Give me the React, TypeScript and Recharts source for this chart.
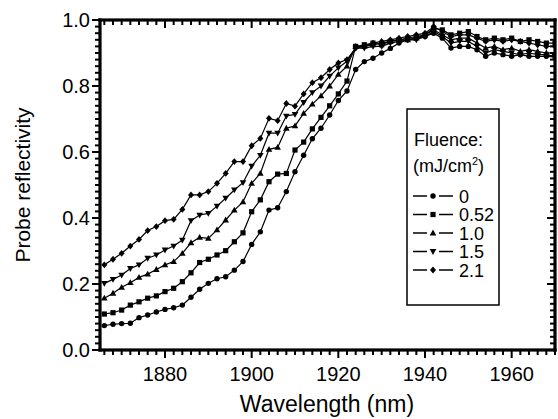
import React from "react";
import { LineChart, Line, XAxis, YAxis } from "recharts";

// wavelength in nm, one point every 2 nm
const wavelength = [
  1866, 1868, 1870, 1872, 1874, 1876, 1878, 1880, 1882, 1884,
  1886, 1888, 1890, 1892, 1894, 1896, 1898, 1900, 1902, 1904,
  1906, 1908, 1910, 1912, 1914, 1916, 1918, 1920, 1922, 1924,
  1926, 1928, 1930, 1932, 1934, 1936, 1938, 1940, 1942, 1944,
  1946, 1948, 1950, 1952, 1954, 1956, 1958, 1960, 1962, 1964,
  1966, 1968, 1970,
];

// probe reflectivity for each fluence (mJ/cm2)
const fluence0 = [
  0.074, 0.078, 0.08, 0.081, 0.098, 0.106, 0.115, 0.123, 0.128, 0.136,
  0.16, 0.184, 0.202, 0.216, 0.222, 0.242, 0.268, 0.32, 0.358, 0.424,
  0.431, 0.48, 0.54, 0.59, 0.64, 0.672, 0.712, 0.756, 0.785, 0.85,
  0.874, 0.884, 0.9, 0.914, 0.93, 0.94, 0.945, 0.95, 0.96, 0.945,
  0.915, 0.92, 0.92, 0.91, 0.89, 0.9, 0.895, 0.89, 0.895, 0.89,
  0.89, 0.89, 0.888,
];
const fluence052 = [
  0.109, 0.113, 0.121, 0.136, 0.146, 0.157, 0.164, 0.177, 0.187, 0.207,
  0.234, 0.265, 0.275, 0.288, 0.301, 0.328, 0.355, 0.419, 0.455, 0.51,
  0.533, 0.535, 0.606, 0.63, 0.67, 0.705, 0.74, 0.776, 0.815, 0.92,
  0.925, 0.93, 0.925, 0.935, 0.94, 0.945, 0.95, 0.955, 0.975, 0.97,
  0.955, 0.96, 0.965, 0.95, 0.94, 0.945, 0.94, 0.945, 0.935, 0.94,
  0.935, 0.93, 0.93,
];
const fluence10 = [
  0.157, 0.172, 0.19, 0.204, 0.22, 0.23, 0.244, 0.258, 0.268, 0.293,
  0.325, 0.341, 0.338, 0.364, 0.394, 0.424, 0.449, 0.505, 0.535, 0.608,
  0.614, 0.672, 0.679, 0.717, 0.745, 0.77, 0.8, 0.835, 0.86, 0.92,
  0.92, 0.925, 0.93, 0.935, 0.94, 0.94, 0.945, 0.955, 0.97, 0.955,
  0.94, 0.945, 0.945, 0.93, 0.915, 0.92, 0.91, 0.915, 0.905, 0.91,
  0.905, 0.9, 0.9,
];
const fluence15 = [
  0.202, 0.214, 0.227, 0.247, 0.258, 0.278, 0.288, 0.303, 0.315, 0.333,
  0.392, 0.409, 0.414, 0.436, 0.46, 0.485, 0.507, 0.557, 0.59, 0.657,
  0.657, 0.709, 0.714, 0.75, 0.78, 0.8, 0.83, 0.855, 0.875, 0.915,
  0.915, 0.92, 0.92, 0.93, 0.935, 0.94, 0.94, 0.95, 0.965, 0.95,
  0.93, 0.935, 0.935, 0.92, 0.9, 0.91, 0.905, 0.9, 0.895, 0.9,
  0.895, 0.895, 0.89,
];
const fluence21 = [
  0.258, 0.275, 0.293, 0.315, 0.335, 0.362, 0.374, 0.392, 0.396, 0.426,
  0.47, 0.47, 0.48, 0.505, 0.535, 0.571, 0.571, 0.619, 0.641, 0.702,
  0.695, 0.747, 0.739, 0.776, 0.81, 0.825, 0.85, 0.87, 0.88, 0.915,
  0.92, 0.93, 0.935, 0.94, 0.945, 0.95, 0.955, 0.96, 0.98, 0.965,
  0.95, 0.955, 0.955, 0.945, 0.935, 0.94, 0.935, 0.94, 0.935, 0.93,
  0.925, 0.92, 0.92,
];

const seriesLabels = ["0", "0.52", "1.0", "1.5", "2.1"];
const seriesKeys = ["f0", "f052", "f10", "f15", "f21"];
const seriesShapes = ["circle", "square", "up", "down", "diamond"];

const xMajorTicks = [1880, 1900, 1920, 1940, 1960];
const yMajorTicks = [0, 0.2, 0.4, 0.6, 0.8, 1.0];

const X_DOMAIN = [1865, 1970];
const Y_DOMAIN = [0, 1];

const xTicks: number[] = [];
for (let t = 1866; t <= 1970; t += 2) xTicks.push(t);
const yTicks: number[] = [];
for (let i = 0; i <= 50; i++) yTicks.push(i / 50);

const data = wavelength.map((w, i) => ({
  w,
  f0: fluence0[i],
  f052: fluence052[i],
  f10: fluence10[i],
  f15: fluence15[i],
  f21: fluence21[i],
}));

const FONT = "'Liberation Sans', Arial, Helvetica, sans-serif";

// plot box, from the chart margins below
const W = 558;
const H = 419;
const PLOT = { left: 100, right: 555, top: 20, bottom: 350 };
const sx = (v: number) =>
  PLOT.left + ((v - X_DOMAIN[0]) / (X_DOMAIN[1] - X_DOMAIN[0])) * (PLOT.right - PLOT.left);
const sy = (v: number) =>
  PLOT.bottom - ((v - Y_DOMAIN[0]) / (Y_DOMAIN[1] - Y_DOMAIN[0])) * (PLOT.bottom - PLOT.top);

function Marker({ shape, cx, cy }: { shape: string; cx: number; cy: number }) {
  switch (shape) {
    case "square":
      return <rect x={cx - 2.6} y={cy - 2.6} width={5.2} height={5.2} fill="#000" />;
    case "up":
      return <polygon points={`${cx},${cy - 3.4} ${cx - 3.3},${cy + 2.4} ${cx + 3.3},${cy + 2.4}`} fill="#000" />;
    case "down":
      return <polygon points={`${cx},${cy + 3.4} ${cx - 3.3},${cy - 2.4} ${cx + 3.3},${cy - 2.4}`} fill="#000" />;
    case "diamond":
      return <polygon points={`${cx},${cy - 3.4} ${cx + 3},${cy} ${cx},${cy + 3.4} ${cx - 3},${cy}`} fill="#000" />;
    default:
      return <circle cx={cx} cy={cy} r={2.7} fill="#000" />;
  }
}

const isMajorX = (v: number) => xMajorTicks.includes(v);
const isMajorY = (v: number) => yMajorTicks.some((m) => Math.abs(m - v) < 1e-6);

const BottomLabel = ({ x, y, payload }: any) =>
  isMajorX(payload.value) ? (
    <text x={x} y={y + 31} textAnchor="middle" fontSize={20} fontFamily={FONT} fill="#000">
      {payload.value}
    </text>
  ) : (
    <g />
  );

const LeftLabel = ({ x, y, payload }: any) =>
  isMajorY(payload.value) ? (
    <text x={x - 10} y={y + 7} textAnchor="end" fontSize={20} fontFamily={FONT} fill="#000">
      {payload.value.toFixed(1)}
    </text>
  ) : (
    <g />
  );

// frame with ticks: outward on bottom/left, inward on top/right
function PlotFrame() {
  const tw = 2;
  const fw = 3.2;
  return (
    <g fill="#000">
      {xTicks.map((t) => {
        const len = isMajorX(t) ? 8 : 5;
        const x = sx(t) - tw / 2;
        return (
          <g key={`x${t}`}>
            <rect x={x} y={PLOT.bottom} width={tw} height={len} />
            <rect x={x} y={PLOT.top} width={tw} height={len} />
          </g>
        );
      })}
      {yTicks.map((t) => {
        const len = isMajorY(t) ? 8 : 5;
        const y = sy(t) - tw / 2;
        return (
          <g key={`y${t}`}>
            <rect x={PLOT.left - len} y={y} width={len} height={tw} />
            <rect x={PLOT.right - len} y={y} width={len} height={tw} />
          </g>
        );
      })}
      <rect x={PLOT.left - fw / 2} y={PLOT.top - fw / 2} width={PLOT.right - PLOT.left + fw} height={fw} />
      <rect x={PLOT.left - fw / 2} y={PLOT.bottom - fw / 2} width={PLOT.right - PLOT.left + fw} height={fw} />
      <rect x={PLOT.left - fw / 2} y={PLOT.top - fw / 2} width={fw} height={PLOT.bottom - PLOT.top + fw} />
      <rect x={PLOT.right - fw / 2} y={PLOT.top - fw / 2} width={fw} height={PLOT.bottom - PLOT.top + fw} />
    </g>
  );
}

function LegendBox() {
  const rowY = [196, 214.5, 233, 251.5, 270];
  return (
    <g fontFamily={FONT} fill="#000">
      <rect x={407} y={109} width={92} height={196} fill="#fff" stroke="#000" strokeWidth={1.5} />
      <text x={414} y={146} fontSize={18}>Fluence:</text>
      <text x={413} y={172} fontSize={18}>
        (mJ/cm<tspan dy={-7} fontSize={11}>2</tspan><tspan dy={7}>)</tspan>
      </text>
      {seriesLabels.map((lab, i) => (
        <g key={lab}>
          <line x1={413} x2={427} y1={rowY[i]} y2={rowY[i]} stroke="#000" strokeWidth={1.5} />
          <line x1={439} x2={453} y1={rowY[i]} y2={rowY[i]} stroke="#000" strokeWidth={1.5} />
          <Marker shape={seriesShapes[i]} cx={433} cy={rowY[i]} />
          <text x={459} y={rowY[i] + 6.5} fontSize={18}>{lab}</text>
        </g>
      ))}
    </g>
  );
}

export default function App() {
  return (
    <div style={{ position: "absolute", left: 0, top: 0, width: W, height: H, background: "#fff" }}>
      <LineChart
        width={W}
        height={H}
        data={data}
        margin={{ top: PLOT.top, right: W - PLOT.right, left: 0, bottom: 0 }}
      >
        <XAxis
          dataKey="w"
          type="number"
          domain={X_DOMAIN}
          allowDataOverflow
          ticks={xTicks}
          interval={0}
          height={H - PLOT.bottom}
          tickSize={0}
          tickMargin={0}
          tickLine={false}
          axisLine={false}
          tick={<BottomLabel />}
        />
        <YAxis
          type="number"
          domain={Y_DOMAIN}
          allowDataOverflow
          ticks={yTicks}
          interval={0}
          width={PLOT.left}
          tickSize={0}
          tickMargin={0}
          tickLine={false}
          axisLine={false}
          tick={<LeftLabel />}
        />
        {seriesKeys.map((k, i) => (
          <Line
            key={k}
            dataKey={k}
            type="linear"
            stroke="#000"
            strokeWidth={1.2}
            isAnimationActive={false}
            dot={(p: any) => <Marker key={`${k}-${p.index}`} shape={seriesShapes[i]} cx={p.cx} cy={p.cy} />}
            activeDot={false}
          />
        ))}
      </LineChart>
      <svg width={W} height={H} style={{ position: "absolute", left: 0, top: 0, pointerEvents: "none" }}>
        <PlotFrame />
        <LegendBox />
        <text
          x={0}
          y={0}
          transform="translate(30,185) rotate(-90)"
          textAnchor="middle"
          fontSize={21}
          fontFamily={FONT}
          fill="#000"
        >
          Probe reflectivity
        </text>
        <text x={327} y={412} textAnchor="middle" fontSize={23} fontFamily={FONT} fill="#000">
          Wavelength (nm)
        </text>
      </svg>
    </div>
  );
}
